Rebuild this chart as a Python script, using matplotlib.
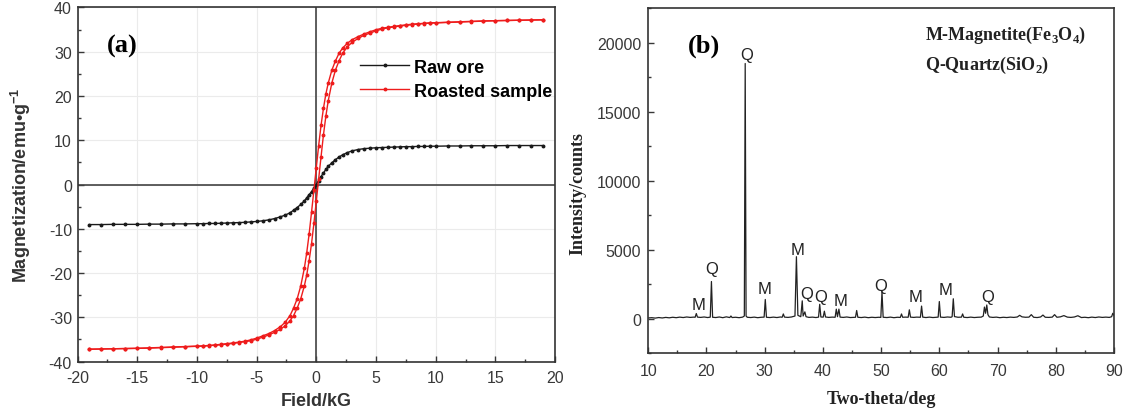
import numpy as np
import matplotlib.pyplot as plt
from matplotlib.ticker import MultipleLocator

plt.rcParams['font.family'] = ['Liberation Sans', 'DejaVu Sans']
plt.rcParams['axes.unicode_minus'] = False
plt.rcParams['mathtext.fontset'] = 'custom'
plt.rcParams['mathtext.rm'] = 'Liberation Serif:bold'
plt.rcParams['mathtext.sf'] = 'Liberation Sans:bold'

# ---- (a) magnetization curves ----
field_kg = [19, 18, 17, 16, 15, 14, 13, 12, 11, 10, 9.5, 9, 8.5, 8, 7.5, 7, 6.5, 6, 5.5, 5,
            4.5, 4, 3.5, 3, 2.6, 2.2, 1.9, 1.6, 1.3, 1.0, 0.8, 0.6, 0.4, 0.2, 0,
            -0.2, -0.4, -0.6, -0.8, -1.0, -1.3, -1.6, -1.9, -2.2, -2.6, -3, -3.5, -4, -4.5, -5,
            -5.5, -6, -6.5, -7, -7.5, -8, -8.5, -9, -9.5, -10, -11, -12, -13, -14, -15, -16,
            -17, -18, -19]

raw_ore = [8.8, 8.8, 8.8, 8.8, 8.75, 8.75, 8.75, 8.7, 8.7, 8.65, 8.65, 8.6, 8.6, 8.55, 8.55, 8.5,
           8.45, 8.4, 8.35, 8.3, 8.2, 8.1, 7.9, 7.6, 7.2, 6.7, 6.2, 5.6, 4.9, 4.1, 3.4, 2.6, 1.8,
           0.9, 0.0,
           -0.8, -1.6, -2.3, -3.0, -3.7, -4.5, -5.2, -5.8, -6.4, -6.9, -7.3, -7.7, -8.0, -8.2,
           -8.35, -8.45, -8.55, -8.6, -8.65, -8.7, -8.75, -8.8, -8.8, -8.85, -8.85, -8.9, -8.9,
           -8.95, -8.95, -9.0, -9.0, -9.0, -9.05, -9.05]

# descending-field branch of the roasted sample loop
roasted_down = [37.2, 37.15, 37.1, 37.05, 37.0, 36.95, 36.85, 36.75, 36.65, 36.55, 36.5, 36.4,
                36.3, 36.2, 36.05, 35.9, 35.7, 35.5, 35.3, 34.95, 34.5, 34.0, 33.4, 32.7, 31.9,
                30.8, 29.6, 27.9, 25.8, 22.9, 20.4, 17.2, 13.4, 8.8, 3.8,
                -1.3, -6.3, -11.2, -15.4, -18.9, -22.9, -25.8, -27.9, -29.6, -31.1, -32.1, -33.0,
                -33.7, -34.2, -34.7, -35.1, -35.4, -35.6, -35.8, -35.95, -36.1, -36.25, -36.35,
                -36.45, -36.5, -36.6, -36.7, -36.8, -36.9, -37.0, -37.05, -37.1, -37.15, -37.2]

# ascending-field branch (same field order as field_kg)
roasted_up = [37.2, 37.15, 37.1, 37.05, 37.0, 36.9, 36.8, 36.7, 36.6, 36.5, 36.45, 36.35, 36.25,
              36.1, 35.95, 35.8, 35.6, 35.4, 35.1, 34.7, 34.2, 33.7, 33.0, 32.1, 31.1, 29.6,
              27.9, 25.8, 22.9, 18.9, 15.4, 11.2, 6.3, 1.3, -3.8,
              -8.8, -13.4, -17.2, -20.4, -22.9, -25.8, -27.9, -29.6, -30.8, -31.9, -32.7, -33.4,
              -34.0, -34.5, -34.95, -35.3, -35.5, -35.7, -35.9, -36.05, -36.2, -36.3, -36.4,
              -36.5, -36.55, -36.65, -36.75, -36.85, -36.95, -37.0, -37.05, -37.1, -37.15, -37.2]

# ---- (b) XRD pattern ----
two_theta = [10.0, 10.6, 11.2, 11.8, 12.4, 13.0, 13.6, 14.2, 14.8, 15.4, 16.0, 16.6, 17.2, 17.8,
             18.05, 18.25, 18.45, 19.0, 19.6, 20.2, 20.65, 20.85, 21.05, 21.6, 22.2, 22.8, 23.4,
             24.0, 24.2, 24.4, 25.0, 25.6, 26.2, 26.5, 26.65, 26.8, 27.0, 27.6, 28.2, 28.8, 29.4,
             29.9, 30.1, 30.3, 30.9, 31.5, 32.1, 32.7, 33.0, 33.2, 33.4, 34.0, 34.6, 35.2, 35.45,
             35.7, 36.2, 36.45, 36.6, 36.9, 37.1, 37.6, 38.2, 38.8, 39.25, 39.45, 39.65, 40.05,
             40.25, 40.45, 41.0, 41.6, 42.1, 42.3, 42.5, 42.75, 42.95, 43.5, 44.1, 44.7, 45.6,
             45.8, 46.0, 46.6, 47.2, 47.8, 48.4, 49.0, 49.6, 49.95, 50.15, 50.35, 51.0, 51.6,
             52.2, 52.8, 53.3, 53.5, 53.7, 54.2, 54.65, 54.85, 55.05, 55.6, 56.1, 56.75, 56.95,
             57.15, 57.7, 58.3, 58.9, 59.6, 59.8, 60.0, 60.2, 60.8, 61.4, 62.0, 62.2, 62.4, 62.6,
             63.2, 63.8, 64.0, 64.2, 64.8, 65.4, 66.0, 66.6, 67.2, 67.55, 67.75, 67.95, 68.15,
             68.35, 68.6, 69.2, 69.8, 70.4, 71.0, 71.6, 72.2, 72.8, 73.4, 73.8, 74.2, 74.8, 75.4,
             75.8, 76.2, 76.8, 77.4, 77.8, 78.2, 78.8, 79.4, 79.8, 80.2, 80.8, 81.4, 82.0, 82.6,
             83.2, 83.8, 84.4, 85.0, 85.6, 86.2, 86.8, 87.4, 88.0, 88.6, 89.2, 89.6, 89.8, 90.0]

counts = [60, 80, 50, 90, 60, 100, 70, 110, 80, 120, 90, 130, 100, 120,
          110, 380, 120, 100, 130, 90, 120, 2700, 110, 90, 130, 80, 140,
          90, 200, 90, 110, 80, 120, 200, 18500, 200, 110, 90, 120, 80, 110,
          120, 1400, 110, 90, 120, 90, 130, 110, 350, 120, 100, 130, 200, 4500,
          250, 150, 1300, 200, 500, 150, 100, 120, 90, 120, 1050, 130, 120,
          550, 130, 100, 120, 110, 700, 150, 700, 120, 100, 130, 90, 110,
          600, 110, 90, 120, 80, 110, 90, 110, 100, 1950, 110, 90, 120,
          80, 110, 100, 350, 110, 120, 110, 650, 120, 100, 120, 110, 920,
          120, 90, 120, 90, 110, 120, 1250, 120, 100, 130, 110, 150, 1450, 160,
          110, 120, 350, 110, 90, 120, 90, 110, 120, 200, 850, 400, 1000,
          300, 130, 100, 120, 80, 110, 90, 120, 100, 130, 250, 140, 110, 120,
          300, 110, 90, 130, 270, 110, 100, 120, 300, 110, 140, 230, 120, 100,
          130, 220, 90, 110, 80, 120, 90, 130, 100, 120, 100, 150, 400, 250]

peak_labels = ['M', 'Q', 'Q', 'M', 'M', 'Q', 'Q', 'M', 'Q', 'M', 'M', 'Q']
label_theta = [18.6, 20.9, 26.9, 30.0, 35.7, 37.2, 39.7, 43.0, 50.0, 55.9, 61.1, 68.3]
label_counts = [1060, 3610, 19160, 2200, 5000, 1840, 1590, 1350, 2440, 1590, 2130, 1590]

fig = plt.figure(figsize=(11.3, 4.1), dpi=100)
ax1 = fig.add_axes([0.0686, 0.1156, 0.4226, 0.8639])
ax2 = fig.add_axes([0.5737, 0.1359, 0.4121, 0.8414])

tick_col = '#383838'
for ax in (ax1, ax2):
    for s in ax.spines.values():
        s.set_color('#333333')
        s.set_linewidth(1.2)
    ax.tick_params(which='both', direction='in', colors=tick_col, labelsize=11.5, width=1)
    ax.tick_params(which='major', length=4.5)
    ax.tick_params(which='minor', length=2.5)

# panel (a)
ax1.grid(True, color='#ebebeb', linewidth=0.8)
ax1.set_axisbelow(True)
ax1.axhline(0, color='#444444', lw=1.2, zorder=1)
ax1.axvline(0, color='#444444', lw=1.2, zorder=1)
ax1.plot(field_kg, raw_ore, color='#1a1a1a', lw=1, marker='o', ms=1.8, label='Raw ore', zorder=3)
ax1.plot(field_kg, roasted_down, color='#ee1c1c', lw=1, marker='o', ms=1.8,
         label='Roasted sample', zorder=3)
ax1.plot(field_kg, roasted_up, color='#ee1c1c', lw=1, marker='o', ms=1.8, zorder=3)
ax1.set_xlim(-20, 20)
ax1.set_ylim(-40, 40)
ax1.xaxis.set_major_locator(MultipleLocator(5))
ax1.xaxis.set_minor_locator(MultipleLocator(2.5))
ax1.yaxis.set_major_locator(MultipleLocator(10))
ax1.yaxis.set_minor_locator(MultipleLocator(5))
ax1.tick_params(axis='x', pad=6)
ax1.tick_params(axis='y', pad=4)
ax1.set_xlabel('Field/kG', fontsize=13, fontweight='bold', color='#333333')
ax1.set_ylabel(r'Magnetization/emu•g$^{\mathsf{-1}}$', fontsize=13, fontweight='bold',
               color='#333333')
ax1.xaxis.set_label_coords(0.5, -0.111)
ax1.xaxis.label.set_va('center')
ax1.yaxis.set_label_coords(-0.118, 0.5)
ax1.yaxis.label.set_va('center')
ax1.text(0.061, 0.892, '(a)', transform=ax1.transAxes, fontsize=19, fontweight='bold',
         family='Liberation Serif', va='center', ha='left')
ax1.legend(loc='upper left', bbox_to_anchor=(0.592, 0.855), frameon=False,
           prop={'weight': 'bold', 'size': 13}, handlelength=2.7, handletextpad=0.3,
           labelspacing=0.38, borderaxespad=0, borderpad=0)

# panel (b)
ax2.plot(two_theta, counts, color='#222222', lw=0.9)
ax2.set_xlim(10, 90)
ax2.set_ylim(-2500, 22500)
ax2.xaxis.set_major_locator(MultipleLocator(10))
ax2.xaxis.set_minor_locator(MultipleLocator(5))
ax2.yaxis.set_major_locator(MultipleLocator(5000))
ax2.yaxis.set_minor_locator(MultipleLocator(2500))
ax2.tick_params(axis='x', pad=7)
ax2.tick_params(axis='y', pad=5)
ax2.set_xlabel('Two-theta/deg', fontsize=13, fontweight='bold', family='Liberation Serif',
               color='#222222')
ax2.set_ylabel('Intensity/counts', fontsize=13, fontweight='bold', family='Liberation Serif',
               color='#222222')
ax2.xaxis.set_label_coords(0.5, -0.1325)
ax2.xaxis.label.set_va('center')
ax2.yaxis.set_label_coords(-0.151, 0.466)
ax2.yaxis.label.set_va('center')
for lab, t, c in zip(peak_labels, label_theta, label_counts):
    ax2.text(t, c, lab, fontsize=12, ha='center', va='center', color='#222222')
ax2.text(0.085, 0.892, '(b)', transform=ax2.transAxes, fontsize=19, fontweight='bold',
         family='Liberation Serif', va='center', ha='left')
ax2.text(0.595, 0.925, r'M-Magnetite(Fe$_{3}$O$_{4}$)', transform=ax2.transAxes, fontsize=13,
         fontweight='bold', family='Liberation Serif', va='center', ha='left', color='#222222')
ax2.text(0.595, 0.836, r'Q-Quartz(SiO$_{2}$)', transform=ax2.transAxes, fontsize=13,
         fontweight='bold', family='Liberation Serif', va='center', ha='left', color='#222222')

fig.savefig('out.png', dpi=100)
